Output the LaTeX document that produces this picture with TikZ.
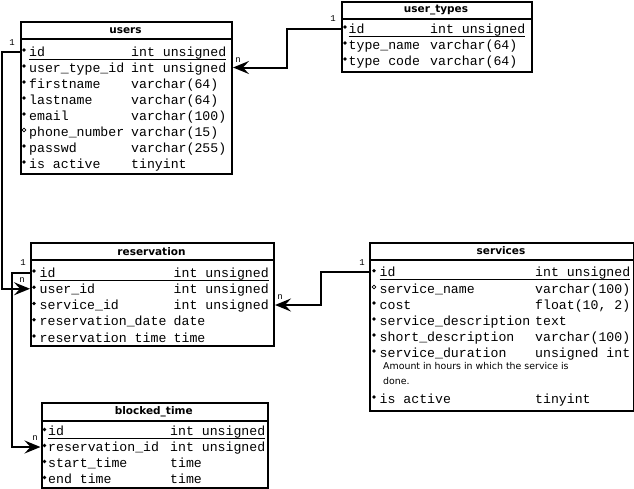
\documentclass[tikz,border=0pt]{standalone}
\usepackage{fontspec}
\usetikzlibrary{arrows.meta}
\newfontfamily\monof{Liberation Mono}
\newfontfamily\sansf{DejaVu Sans}
\tikzset{
 tbl/.style={draw, line width=2pt, inner sep=0pt, anchor=north west},
 sepline/.style={line width=2pt},
 rowtxt/.style={inner sep=0pt, anchor=base west, font=\monof\fontsize{13.2}{16}\selectfont},
 hdr/.style={inner sep=0pt, font=\sansf\bfseries\fontsize{10.5}{12}\selectfont},
 notetxt/.style={inner sep=0pt, anchor=base west, font=\sansf\fontsize{9.4}{12}\selectfont},
 card/.style={inner sep=0pt, font=\monof\fontsize{9}{9}\selectfont},
 conn/.style={line width=2pt, -{Stealth[length=16pt,width=13pt,inset=6pt]}},
 pkline/.style={line width=0.9pt},
 dotfull/.style={fill=black},
 dotopen/.style={draw=black, line width=0.7pt},
}
\newcommand\trow[8]{%
  \node[rowtxt] (#1-n) at (#3,#5) {#6};
  \node[rowtxt] (#1-t) at (#4,#5) {#7};
  \path[#8] (#2,#5-6) circle (1.8pt);
  \coordinate (#1) at (#2,#5-4.5);
}
\newcommand\pkul[1]{\draw[pkline] ([yshift=-3pt]#1-n.base west) -- ([yshift=-3pt]#1-t.base east);}
\begin{document}
\begin{tikzpicture}[x=1pt,y=-1pt]
\useasboundingbox (0,0) rectangle (634,488);
\fill[white] (0,0) rectangle (634,488);

% users
\node[tbl, minimum width=211pt, minimum height=152pt] (users) at (20,21) {};
\draw[sepline] (users.west |- 0,39) -- (users.east |- 0,39);
\node[hdr] (users-h) at (125.5,31) {users};
\trow{u1}{24}{29}{131}{56}{id}{int unsigned}{dotfull}
\trow{u2}{24}{29}{131}{72}{user\_type\_id}{int unsigned}{dotfull}
\trow{u3}{24}{29}{131}{88}{firstname}{varchar(64)}{dotfull}
\trow{u4}{24}{29}{131}{104}{lastname}{varchar(64)}{dotfull}
\trow{u5}{24}{29}{131}{120}{email}{varchar(100)}{dotfull}
\trow{u6}{24}{29}{131}{136}{phone\_number}{varchar(15)}{dotopen}
\trow{u7}{24}{29}{131}{152}{passwd}{varchar(255)}{dotfull}
\trow{u8}{24}{29}{131}{168}{is active}{tinyint}{dotfull}
\pkul{u1}

% user_types
\node[tbl, minimum width=190pt, minimum height=70pt] (ut) at (341,1) {};
\draw[sepline] (ut.west |- 0,19) -- (ut.east |- 0,19);
\node[hdr] (ut-h) at (436,10) {user\_types};
\trow{t1}{345}{348.5}{430}{33}{id}{int unsigned}{dotfull}
\trow{t2}{345}{348.5}{430}{49}{type\_name}{varchar(64)}{dotfull}
\trow{t3}{345}{348.5}{430}{65}{type code}{varchar(64)}{dotfull}
\pkul{t1}

% reservation
\node[tbl, minimum width=243pt, minimum height=103pt] (res) at (30,242) {};
\draw[sepline] (res.west |- 0,260) -- (res.east |- 0,260);
\node[hdr] (res-h) at (151.5,251.5) {reservation};
\trow{r1}{34}{39.5}{173.5}{277}{id}{int unsigned}{dotfull}
\trow{r2}{34}{39.5}{173.5}{293.25}{user\_id}{int unsigned}{dotfull}
\trow{r3}{34}{39.5}{173.5}{309.5}{service\_id}{int unsigned}{dotfull}
\trow{r4}{34}{39.5}{173.5}{325.75}{reservation\_date}{date}{dotfull}
\trow{r5}{34}{39.5}{173.5}{342}{reservation time}{time}{dotfull}
\pkul{r1}

% services
\node[tbl, minimum width=264pt, minimum height=168pt] (svc) at (369,242) {};
\draw[sepline] (svc.west |- 0,259.5) -- (svc.east |- 0,259.5);
\node[hdr] (svc-h) at (501,251) {services};
\trow{s1}{374}{379.5}{535}{276.7}{id}{int unsigned}{dotfull}
\trow{s2}{374}{379.5}{535}{293}{service\_name}{varchar(100)}{dotopen}
\trow{s3}{374}{379.5}{535}{309}{cost}{float(10, 2)}{dotfull}
\trow{s4}{374}{379.5}{535}{325}{service\_description}{text}{dotfull}
\trow{s5}{374}{379.5}{535}{341}{short\_description}{varchar(100)}{dotfull}
\trow{s6}{374}{379.5}{535}{357}{service\_duration}{unsigned int}{dotfull}
\node[notetxt] (s6-note1) at (383,369) {Amount in hours in which the service is};
\node[notetxt] (s6-note2) at (383,384) {done.};
\trow{s7}{374}{379.5}{535}{403}{is active}{tinyint}{dotfull}
\pkul{s1}

% blocked_time
\node[tbl, minimum width=226.5pt, minimum height=85pt] (bt) at (40.5,402) {};
\draw[sepline] (bt.west |- 0,421) -- (bt.east |- 0,421);
\node[hdr] (bt-h) at (153.75,412) {blocked\_time};
\trow{b1}{44.5}{48}{170}{435.5}{id}{int unsigned}{dotfull}
\trow{b2}{44.5}{48}{170}{451.5}{reservation\_id}{int unsigned}{dotfull}
\trow{b3}{44.5}{48}{170}{467.5}{start\_time}{time}{dotfull}
\trow{b4}{44.5}{48}{170}{483.5}{end time}{time}{dotfull}
\pkul{b1}

% connectors
\draw[conn] (users.west |- u1) -- ++(-18.5,0) |- (res.west |- r2);
\draw[conn] (ut.west |- t1) -- ++(-54,0) |- (users.east |- u2);
\draw[conn] (res.west |- r1) -- ++(-18,0) |- (bt.west |- b2);
\draw[conn] (svc.west |- s1) -- ++(-48,0) |- (res.east |- r3);

% cardinalities
\node[card] (c1a) at (12,43) {1};
\node[card] (c1b) at (22,280) {n};
\node[card] (c2a) at (333,19) {1};
\node[card] (c2b) at (238,60) {n};
\node[card] (c3a) at (23,263) {1};
\node[card] (c3b) at (35,438) {n};
\node[card] (c4a) at (362,263) {1};
\node[card] (c4b) at (280,297) {n};
\end{tikzpicture}
\end{document}
